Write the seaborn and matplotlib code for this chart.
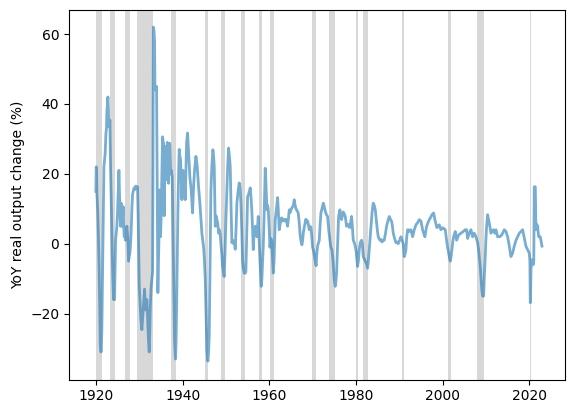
import matplotlib
matplotlib.use("Agg")
import matplotlib.pyplot as plt
import seaborn as sns
import pandas as pd

# (decimal year, YoY % change), grouped by era
pts_1920s = [
    (1920.00, 15), (1920.08, 22), (1920.17, 20), (1920.25, 14), (1920.42, 9.5), (1920.58, 2),
    (1920.75, -7.5), (1920.92, -20), (1921.00, -29), (1921.17, -31), (1921.25, -30.5),
    (1921.38, -24.5), (1921.50, -12), (1921.61, 0), (1921.75, 12), (1921.85, 22), (1922.00, 24),
    (1922.15, 26), (1922.31, 31.5), (1922.45, 33), (1922.54, 38), (1922.77, 42), (1922.85, 40),
    (1923.00, 33.5), (1923.12, 34), (1923.23, 35.4), (1923.38, 22), (1923.54, 12.6),
    (1923.77, -2.7), (1923.92, -10), (1924.08, -16), (1924.20, -15), (1924.31, -16),
    (1924.45, -6), (1924.54, 1), (1924.70, 3), (1924.84, 5), (1925.00, 9), (1925.08, 12.6),
    (1925.20, 16), (1925.31, 21), (1925.42, 15), (1925.54, 9.7), (1925.69, 5), (1925.84, 11.6),
    (1926.07, 5), (1926.20, 8), (1926.30, 10.6), (1926.42, 5), (1926.54, 2), (1926.70, 3),
    (1926.84, 1), (1927.00, 4), (1927.15, 5), (1927.38, 1), (1927.54, -5), (1927.69, -3.7),
    (1927.84, -2.7), (1928.00, 0), (1928.15, 4), (1928.30, 10), (1928.46, 14), (1928.60, 15),
    (1928.84, 16), (1929.00, 15.5), (1929.20, 16.5), (1929.40, 16), (1929.61, 16.3),
    (1929.75, 8), (1929.85, 0),
]
pts_1930s = [
    (1930.00, -12), (1930.20, -17), (1930.38, -21.7), (1930.61, -24.6), (1930.75, -22),
    (1930.92, -19), (1931.08, -16), (1931.23, -13), (1931.38, -17), (1931.53, -19),
    (1931.76, -16), (1931.90, -20), (1932.00, -23.6), (1932.15, -28), (1932.30, -31),
    (1932.42, -26), (1932.53, -19), (1932.65, -15), (1932.76, -12.2), (1932.99, -9.4),
    (1933.08, -8), (1933.17, 20), (1933.25, 62), (1933.40, 61), (1933.53, 58), (1933.62, 45),
    (1933.75, 44), (1934.00, 45), (1934.08, 30), (1934.15, 15), (1934.30, -14), (1934.42, -5),
    (1934.53, 0), (1934.69, 15.4), (1934.80, 8), (1934.92, 2), (1935.05, 8), (1935.15, 15),
    (1935.28, 25), (1935.38, 30.6), (1935.52, 29), (1935.61, 28.8), (1935.75, 8), (1935.92, 26),
    (1936.07, 27.8), (1936.20, 20), (1936.30, 18.3), (1936.46, 29), (1936.53, 28.8),
    (1936.65, 20), (1936.76, 17.3), (1936.90, 25), (1936.99, 28.8), (1937.07, 28),
    (1937.22, 20), (1937.40, 21), (1937.61, 19), (1937.72, 10), (1937.84, 0), (1938.00, -15),
    (1938.15, -28), (1938.30, -32), (1938.38, -33), (1938.50, -28), (1938.61, -19),
    (1938.75, -5), (1938.92, 9.7), (1939.08, 20), (1939.22, 27), (1939.38, 25), (1939.53, 24),
    (1939.70, 18), (1939.84, 12.6),
]
pts_1940s = [
    (1940.07, 21), (1940.20, 17), (1940.38, 18.3), (1940.61, 12.6), (1940.80, 22),
    (1940.92, 28.8), (1941.15, 31.7), (1941.38, 26), (1941.55, 22), (1941.68, 19),
    (1941.99, 15.4), (1942.15, 12), (1942.30, 8.8), (1942.53, 16.3), (1942.76, 21),
    (1943.07, 25), (1943.20, 24), (1943.38, 22), (1943.68, 16.3), (1943.99, 11.6), (1944.30, 6),
    (1944.45, 3), (1944.76, 0), (1944.84, -1), (1945.00, -4), (1945.22, -10), (1945.40, -20),
    (1945.61, -31), (1945.84, -33.6), (1946.00, -31), (1946.14, -26.5), (1946.30, -10),
    (1946.53, 15.4), (1946.75, 22), (1946.99, 26.9), (1947.15, 25), (1947.30, 22), (1947.53, 5),
    (1947.70, 8), (1947.91, 7), (1948.10, 6), (1948.30, 3), (1948.50, 4), (1948.68, 2.7),
    (1948.90, -1), (1949.05, -3), (1949.22, -6.5), (1949.40, -8), (1949.60, -9.4),
    (1949.80, -2),
]
pts_1950s = [
    (1949.99, 7), (1950.20, 15), (1950.40, 22), (1950.60, 27.4), (1950.80, 25), (1950.99, 22),
    (1951.15, 12), (1951.37, 0.3), (1951.55, 1), (1951.76, 0), (1951.95, 0.5), (1952.14, -1.6),
    (1952.35, 5), (1952.53, 11.7), (1952.80, 15), (1953.06, 17.4), (1953.25, 16),
    (1953.45, 11.7), (1953.65, 4), (1953.83, -4.6), (1954.00, -7), (1954.22, -8.4),
    (1954.40, -8.5), (1954.60, -8), (1954.80, 3), (1954.99, 13.5), (1955.20, 14), (1955.40, 15),
    (1955.60, 16), (1955.80, 13), (1955.99, 8.8), (1956.15, 4), (1956.29, -1.7), (1956.50, 3),
    (1956.75, 5), (1956.95, 3), (1957.14, 2), (1957.30, 5), (1957.45, 7.8), (1957.65, 1),
    (1957.83, -4.6), (1958.00, -9), (1958.14, -12.2), (1958.30, -10), (1958.45, -5),
    (1958.60, -1), (1958.80, 8), (1959.06, 21.6), (1959.20, 18), (1959.45, 9.7), (1959.60, 11),
    (1959.75, 10), (1959.95, 5),
]
pts_1960s = [
    (1960.14, -1), (1960.35, 1.5), (1960.52, 1), (1960.70, -3), (1960.91, -8.4), (1961.10, -5),
    (1961.37, 6.9), (1961.65, 10), (1961.91, 13.2), (1962.10, 9), (1962.29, 4), (1962.55, 6),
    (1962.83, 7.4), (1963.05, 6.5), (1963.29, 7), (1963.55, 6.5), (1963.83, 7), (1964.05, 6),
    (1964.21, 5), (1964.40, 7), (1964.60, 9.7), (1964.85, 9), (1965.10, 10), (1965.37, 10.6),
    (1965.55, 11), (1965.75, 12.6), (1965.95, 11), (1966.14, 10), (1966.40, 9.5),
    (1966.67, 8.8), (1966.90, 6), (1967.14, 2), (1967.35, 0.5), (1967.52, -0.3), (1967.70, 1),
    (1967.83, 3), (1968.10, 5), (1968.44, 7), (1968.65, 6), (1968.83, 6.5), (1969.00, 5.5),
    (1969.21, 4), (1969.40, 5), (1969.60, 4.5), (1969.80, 2), (1969.98, -1),
]
pts_1970s = [
    (1970.20, -2), (1970.40, -3.5), (1970.60, -5), (1970.80, -6.3), (1970.95, -3),
    (1971.13, -0.7), (1971.30, 0), (1971.52, 1), (1971.70, 5), (1971.90, 8.8), (1972.15, 10),
    (1972.44, 11.6), (1972.60, 11), (1972.83, 9.7), (1973.10, 8.5), (1973.44, 7.8),
    (1973.70, 4), (1973.98, 1), (1974.20, -1), (1974.44, -1.7), (1974.70, -5), (1974.98, -10.3),
    (1975.21, -12.2), (1975.35, -11), (1975.52, -8.4), (1975.75, 0), (1975.98, 7.8),
    (1976.29, 9.7), (1976.50, 7.5), (1976.67, 6.9), (1977.05, 9.1), (1977.30, 8.5),
    (1977.52, 7.8), (1977.82, 5), (1978.00, 5.5), (1978.21, 5.5), (1978.40, 4.8),
    (1978.59, 4.6), (1978.80, 6.5), (1978.98, 7.8), (1979.15, 5), (1979.36, 1), (1979.60, 0.3),
    (1979.82, -0.7),
]
pts_1980s = [
    (1980.00, -2), (1980.13, -3.7), (1980.36, -6.5), (1980.55, -5), (1980.74, -1.7),
    (1980.98, 0.3), (1981.28, 1), (1981.45, 0), (1981.67, -3.7), (1981.95, -4.5),
    (1982.28, -5.5), (1982.50, -6), (1982.67, -7), (1982.85, -5), (1983.05, -1.7), (1983.25, 2),
    (1983.44, 5), (1983.70, 9), (1983.97, 11.6), (1984.20, 11), (1984.44, 9.7), (1984.74, 5.9),
    (1984.95, 3.5), (1985.13, 2), (1985.30, 1.5), (1985.51, 1), (1985.75, 1.2), (1985.98, 0.5),
    (1986.25, 1), (1986.51, 1), (1986.80, 3), (1987.05, 5), (1987.35, 6.5), (1987.67, 7.8),
    (1987.95, 7), (1988.21, 6.4), (1988.40, 5), (1988.59, 3), (1988.90, 1.5), (1989.20, 0.3),
    (1989.45, 0.5), (1989.74, 0),
]
pts_1990s = [
    (1990.05, 1), (1990.36, 2), (1990.60, 1), (1990.90, 0), (1991.13, -3.7), (1991.30, -3),
    (1991.51, -1.7), (1991.70, 2), (1991.90, 4), (1992.05, 4), (1992.28, 3.5), (1992.66, 4),
    (1993.05, 2), (1993.43, 4), (1993.82, 5.4), (1994.20, 6), (1994.59, 6.9), (1994.97, 6.5),
    (1995.36, 4), (1995.60, 3), (1995.89, 2), (1996.28, 5), (1996.60, 6), (1996.89, 6.9),
    (1997.20, 7.5), (1997.51, 8.3), (1997.89, 8.8), (1998.28, 6.4), (1998.66, 4.6),
    (1998.90, 5), (1999.20, 5.4), (1999.58, 4), (1999.85, 4.5),
]
pts_2000s = [
    (2000.12, 4.5), (2000.58, 4), (2000.89, 1), (2001.10, -1), (2001.35, -2.7), (2001.55, -4),
    (2001.74, -5), (2001.95, -3.5), (2002.12, -1.7), (2002.30, 0.5), (2002.51, 2),
    (2002.89, 3.5), (2003.20, 1), (2003.66, 2.5), (2004.20, 3), (2004.74, 3.5), (2005.20, 4),
    (2005.51, 4), (2005.74, 1.5), (2006.12, 3), (2006.51, 4), (2006.89, 2), (2007.27, 3),
    (2007.66, 2), (2008.04, 0.3), (2008.25, -1.5), (2008.43, -3.7), (2008.65, -6.5),
    (2008.81, -9.4), (2009.00, -13), (2009.20, -15), (2009.43, -15), (2009.60, -9),
    (2009.74, -5.5), (2009.95, 1),
]
pts_2010s = [
    (2010.12, 5), (2010.35, 8.3), (2010.55, 7), (2010.73, 6), (2011.12, 3), (2011.40, 3.5),
    (2011.66, 4), (2012.00, 3), (2012.27, 4), (2012.66, 2), (2013.20, 2), (2013.66, 2.6),
    (2014.20, 4), (2014.58, 3.5), (2014.96, 2), (2015.35, -0.7), (2015.73, -3.7),
    (2016.12, -2.7), (2016.50, -0.7), (2016.89, 1), (2017.27, 2), (2017.66, 3), (2018.04, 3.5),
    (2018.43, 4), (2018.81, 1.6), (2019.19, -0.7), (2019.58, -1.7), (2019.96, -2.7),
]
pts_2020s = [
    (2020.10, -5), (2020.19, -16.9), (2020.27, -15), (2020.35, -7.4), (2020.58, -4.6),
    (2020.88, -6), (2021.00, -5), (2021.11, 16.3), (2021.35, 16.3), (2021.50, 4),
    (2021.70, 5.5), (2021.89, 5), (2022.12, 2), (2022.50, 2), (2022.89, -0.7),
]

# NBER recession periods (decimal years), clipped to the data window
rec_start = [1919.00, 1920.00, 1923.33, 1926.75, 1929.58, 1937.33, 1945.08, 1948.83, 1953.50,
             1957.58, 1960.25, 1969.92, 1973.83, 1980.00, 1981.50, 1990.50, 2001.17, 2007.92,
             2020.08]
rec_end = [1919.17, 1921.50, 1924.50, 1927.83, 1933.17, 1938.42, 1945.75, 1949.75, 1954.33,
           1958.25, 1961.08, 1970.83, 1975.17, 1980.50, 1982.83, 1991.17, 2001.83, 2009.42,
           2020.25]

all_pts = (pts_1920s + pts_1930s + pts_1940s + pts_1950s + pts_1960s + pts_1970s
           + pts_1980s + pts_1990s + pts_2000s + pts_2010s + pts_2020s)
df = pd.DataFrame(all_pts, columns=["year", "yoy"])

fig = plt.figure(figsize=(5.74, 4.13), dpi=100)
ax = fig.add_axes([69 / 574, (413 - 379.6) / 413, 496 / 574, 369.6 / 413])

for s, e in zip(rec_start, rec_end):
    ax.axvspan(s, e, color="gray", alpha=0.3, lw=0)

sns.lineplot(data=df, x="year", y="yoy", ax=ax, color="C0", alpha=0.6, lw=2,
             estimator=None, sort=False)

ax.set_xlim(1913.8, 2028.2)
ax.set_ylim(-38.9, 66.9)
ax.set_xlabel("")
ax.set_ylabel("YoY real output change (%)")

fig.savefig("out.png", dpi=100)
